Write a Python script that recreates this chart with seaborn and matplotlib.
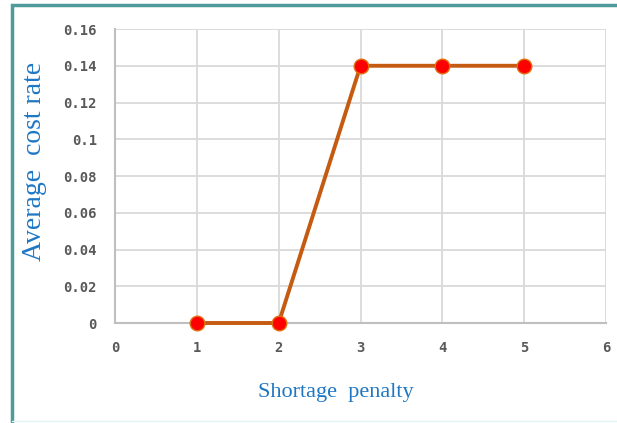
import matplotlib
matplotlib.use("Agg")
import matplotlib.pyplot as plt
import seaborn as sns
import pandas as pd
from matplotlib.patches import Rectangle

# data
penalty = [1, 2, 3, 4, 5]
cost_rate = [0.0, 0.0, 0.14, 0.14, 0.14]
x_ticks = [0, 1, 2, 3, 4, 5, 6]
y_ticks = [0, 0.02, 0.04, 0.06, 0.08, 0.1, 0.12, 0.14, 0.16]
y_tick_labels = ["0", "0.02", "0.04", "0.06", "0.08", "0.1", "0.12", "0.14", "0.16"]

df = pd.DataFrame({"penalty": penalty, "cost": cost_rate})

sns.set_style("white")

fig = plt.figure(figsize=(6.17, 4.23), dpi=100)
ax = fig.add_axes([0.1864, 0.2364, 0.7958, 0.695])

sns.lineplot(data=df, x="penalty", y="cost", ax=ax, color="#C55A11",
             linewidth=2.8, marker="o", markersize=10.5,
             markerfacecolor="#FF0000", markeredgecolor="#E0700F",
             markeredgewidth=1.0, zorder=3, clip_on=False)

ax.set_xlim(0, 6)
ax.set_ylim(0, 0.16)
ax.set_xticks(x_ticks)
ax.set_yticks(y_ticks)
ax.set_yticklabels(y_tick_labels)
ax.grid(True, color="#D9D9D9", linewidth=1.3)
ax.set_axisbelow(True)

for side in ["top", "right"]:
    ax.spines[side].set_visible(False)
for side in ["left", "bottom"]:
    ax.spines[side].set_color("#BFBFBF")
    ax.spines[side].set_linewidth(1.5)

ax.tick_params(axis="both", which="major", length=5, width=1.2,
               color="#BFBFBF", labelcolor="#595959", labelsize=10)
ax.tick_params(axis="x", pad=8)
ax.tick_params(axis="y", pad=8)
for lab in ax.get_xticklabels() + ax.get_yticklabels():
    lab.set_family("DejaVu Sans Mono")
    lab.set_fontweight("bold")

ax.set_xlabel("Shortage  penalty", family="Liberation Serif", fontsize=16,
              color="#1F77C4")
ax.set_ylabel("Average  cost rate", family="Liberation Serif", fontsize=20,
              color="#1F77C4")
ax.xaxis.set_label_coords(0.45, -0.238)
ax.yaxis.set_label_coords(-0.163, 0.548)
ax.xaxis.label.set_va("center")
ax.yaxis.label.set_va("center")

# teal frame on the left and top
fig.add_artist(Rectangle((12 / 617, -0.01), 1.2, 1 - 5 / 423 + 0.01,
                         transform=fig.transFigure, fill=False,
                         edgecolor="#4F9A9A", linewidth=2.5))
fig.add_artist(plt.Line2D([12 / 617, 1], [2 / 423, 2 / 423],
                          transform=fig.transFigure, color="#E4F2F2",
                          linewidth=1.0))

fig.savefig("out.png", dpi=100)
